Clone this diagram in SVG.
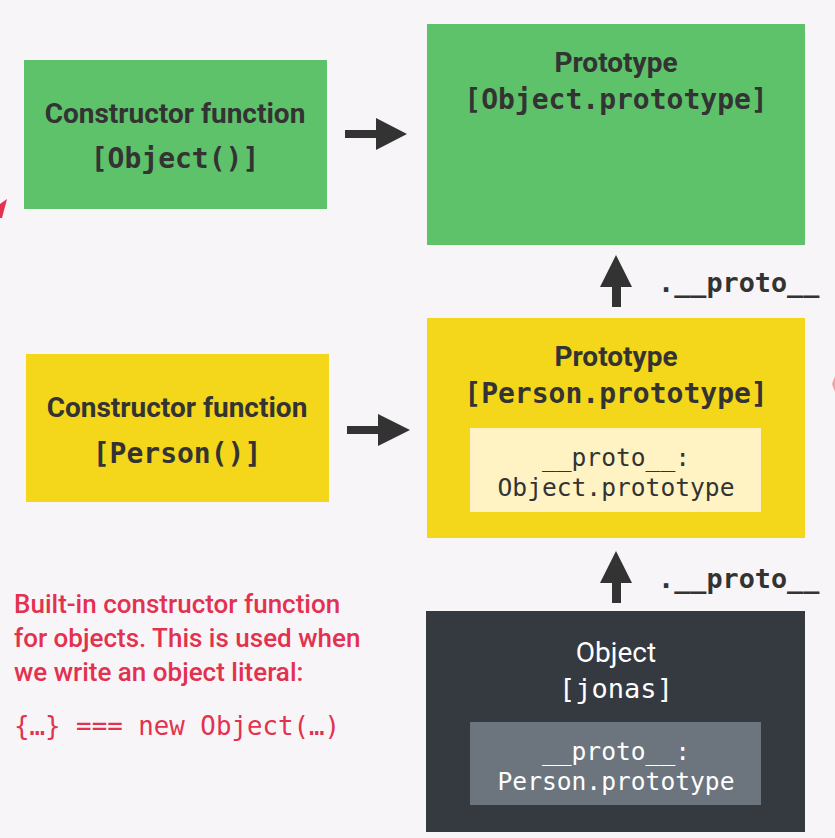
<svg xmlns="http://www.w3.org/2000/svg" width="835" height="838" viewBox="0 0 835 838">
<style>
.sans{font-family:Roboto,"Liberation Sans",sans-serif;font-weight:bold;font-size:28px;text-anchor:middle;fill:#333}
.mono{font-family:"DejaVu Sans Mono","Liberation Mono",monospace;font-size:27px;text-anchor:middle;fill:#333}
.b{font-weight:bold;font-size:28px}
.small{font-size:24.6px}
.white{fill:#fff}
.red{fill:#e2324f}
.arrow{fill:#333}
.note{font-family:Roboto,"Liberation Sans",sans-serif;font-size:26px;font-weight:500}
</style>
<rect width="835" height="838" fill="#f7f5f8"/>
<g id="ctor-object">
<rect x="24" y="60" width="303" height="149" fill="#5ec26a"/>
<text class="sans" x="175" y="123">Constructor function</text>
<text class="mono b" x="175" y="168">[Object()]</text>
</g>
<g id="proto-object">
<rect x="427" y="24" width="378" height="221" fill="#5ec26a"/>
<text class="sans" x="616" y="72">Prototype</text>
<text class="mono b" x="616" y="109">[Object.prototype]</text>
</g>
<g id="ctor-person">
<rect x="26" y="354" width="303" height="148" fill="#f4d71a"/>
<text class="sans" x="177" y="417">Constructor function</text>
<text class="mono b" x="177" y="463">[Person()]</text>
</g>
<g id="proto-person">
<rect x="427" y="318" width="378" height="220" fill="#f4d71a"/>
<text class="sans" x="616" y="366">Prototype</text>
<text class="mono b" x="616" y="403">[Person.prototype]</text>
<rect x="470" y="428" width="291" height="84" fill="#fff3c4"/>
<text class="mono small" x="616" y="466">__proto__:</text>
<text class="mono small" x="616" y="496">Object.prototype</text>
</g>
<g id="object-jonas">
<rect x="426" y="611" width="379" height="221" fill="#343a40"/>
<text class="sans white" x="616" y="662" style="font-weight:normal">Object</text>
<text class="mono white" x="616" y="698">[jonas]</text>
<rect x="470" y="722" width="291" height="83" fill="#6c757d"/>
<text class="mono small white" x="616" y="760">__proto__:</text>
<text class="mono small white" x="616" y="790">Person.prototype</text>
</g>
<g id="note">
<text class="red note" x="14" y="613">Built-in constructor function</text>
<text class="red note" x="14" y="647">for objects. This is used when</text>
<text class="red note" x="14" y="681">we write an object literal:</text>
<text class="red" font-family="'DejaVu Sans Mono','Liberation Mono',monospace" font-size="25.8" x="14" y="735">{…} === new Object(…)</text>
</g>
<g id="connectors">
<rect class="arrow" x="345" y="130" width="33" height="8"/>
<polygon class="arrow" points="376,118 407,134 376,150"/>
<rect class="arrow" x="347" y="426" width="33" height="8"/>
<polygon class="arrow" points="378,414 410,430 378,446"/>
<rect class="arrow" x="612" y="285" width="9" height="22"/>
<polygon class="arrow" points="600,287 616,255 632,287"/>
<text class="mono b" x="658" y="292" style="text-anchor:start;font-size:26.8px">.__proto__</text>
<rect class="arrow" x="612" y="581" width="9" height="22"/>
<polygon class="arrow" points="600,583 616,551 632,583"/>
<text class="mono b" x="658" y="588" style="text-anchor:start;font-size:26.8px">.__proto__</text>
</g>
<g id="fragments">
<polygon points="0,204 7,199 2,218 0,218" fill="#e2324f"/>
<polygon points="832,384 835,376 835,392" fill="#f2a0ae"/>
</g>
</svg>
